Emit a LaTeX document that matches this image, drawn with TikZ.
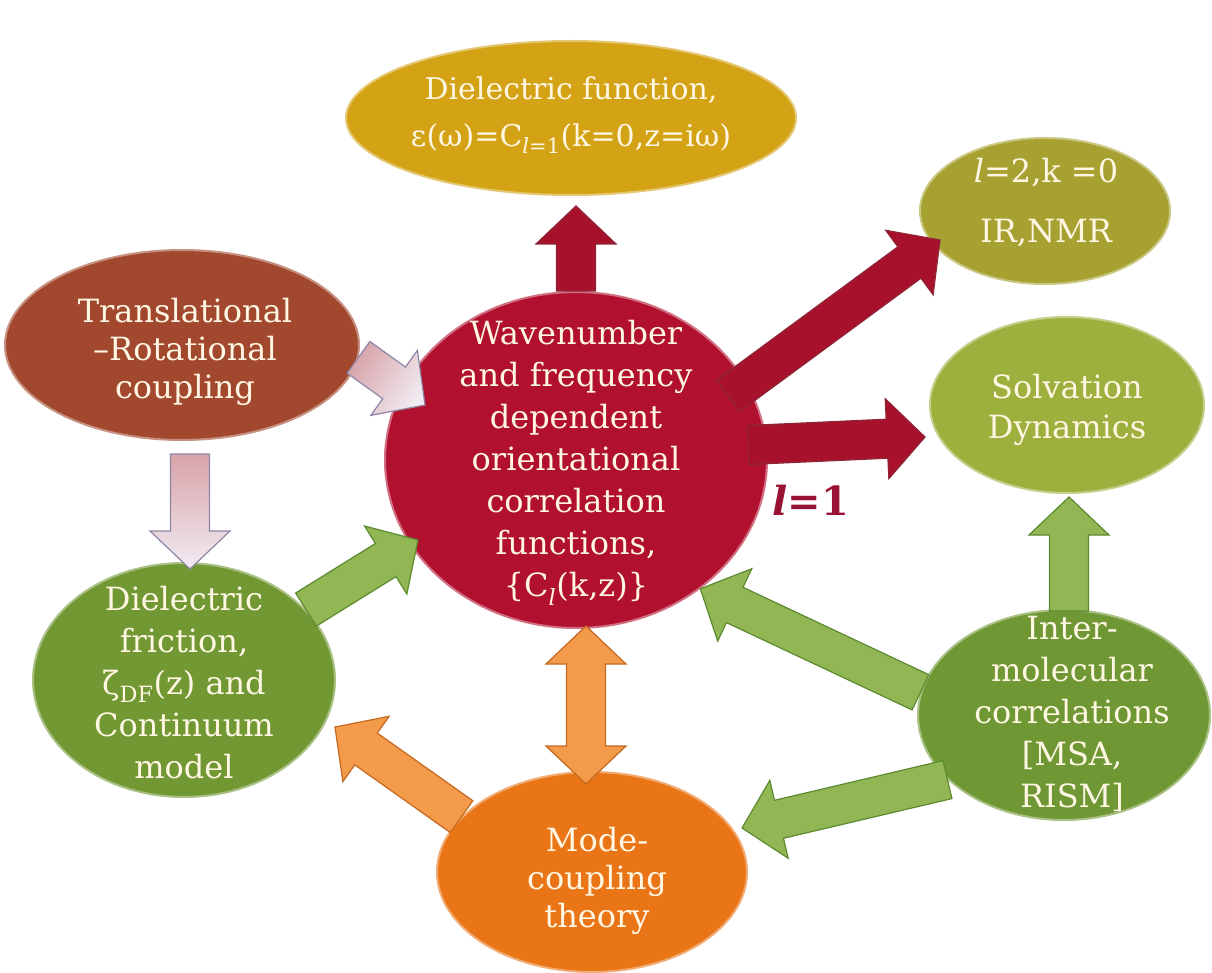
\documentclass[tikz,border=0pt]{standalone}
\usepackage{fontspec}
\setmainfont{DejaVu Serif}
\usetikzlibrary{calc}
\usetikzlibrary{shapes.geometric}
\definecolor{cdiel}{HTML}{D3A215}
\definecolor{cir}{HTML}{A6A130}
\definecolor{csolv}{HTML}{9DAF3C}
\definecolor{ctrans}{HTML}{A2482E}
\definecolor{cwave}{HTML}{B1112F}
\definecolor{cfric}{HTML}{719833}
\definecolor{cinter}{HTML}{6F9834}
\definecolor{cmct}{HTML}{E97516}
\definecolor{cream}{HTML}{FFF7E4}
\definecolor{redfill}{HTML}{A8112C}
\definecolor{redline}{HTML}{8E2638}
\definecolor{pinktop}{HTML}{D7A3A8}
\definecolor{pinkbot}{HTML}{F1ECF3}
\definecolor{pinkline}{HTML}{8F86A6}
\definecolor{greenfill}{HTML}{93B655}
\definecolor{greenline}{HTML}{5C8A2F}
\definecolor{orangefill}{HTML}{F39A4B}
\definecolor{orangeline}{HTML}{C4691F}
\definecolor{lred}{HTML}{9A1233}
\newcommand{\arrshaft}{19.5pt}
\newcommand{\arrhead}{40pt}
\newcommand{\arrlen}{38pt}
\newcommand{\fatarrow}[3][]{%
  \coordinate (fa-s) at (#2);
  \coordinate (fa-e) at (#3);
  \coordinate (fa-b) at ($(fa-e)!\arrlen!(fa-s)$);
  \draw[#1] ($(fa-s)!\arrshaft!90:(fa-e)$) -- ($(fa-b)!\arrshaft!-90:(fa-s)$)
    -- ($(fa-b)!\arrhead!-90:(fa-s)$) -- (fa-e) -- ($(fa-b)!\arrhead!90:(fa-s)$)
    -- ($(fa-b)!\arrshaft!90:(fa-s)$) -- ($(fa-s)!\arrshaft!-90:(fa-e)$) -- cycle;}
\newcommand{\fatdarrow}[3][]{%
  \coordinate (fa-s) at (#2);
  \coordinate (fa-e) at (#3);
  \coordinate (fa-a) at ($(fa-s)!\arrlen!(fa-e)$);
  \coordinate (fa-b) at ($(fa-e)!\arrlen!(fa-s)$);
  \draw[#1] (fa-s) -- ($(fa-a)!\arrhead!90:(fa-e)$) -- ($(fa-a)!\arrshaft!90:(fa-e)$)
    -- ($(fa-b)!\arrshaft!-90:(fa-s)$) -- ($(fa-b)!\arrhead!-90:(fa-s)$) -- (fa-e)
    -- ($(fa-b)!\arrhead!90:(fa-s)$) -- ($(fa-b)!\arrshaft!90:(fa-s)$)
    -- ($(fa-a)!\arrshaft!-90:(fa-e)$) -- ($(fa-a)!\arrhead!-90:(fa-e)$) -- cycle;}
\tikzset{
  blob/.style={ellipse, fill=#1, draw=#1!60!white, line width=2pt, inner sep=0pt},
  lbl/.style={text=cream, align=center, font=\fontsize{32}{42}\selectfont},
  redarrow/.style={fill=redfill, draw=redline, line width=1.2pt},
  pinkarrow/.style={top color=pinktop, bottom color=pinkbot, shading angle=#1, draw=pinkline, line width=1.2pt},
  pinkarrow/.default=0,
  greenarrow/.style={fill=greenfill, draw=greenline, line width=1.2pt},
  orangearrow/.style={fill=orangefill, draw=orangeline, line width=1.2pt}
}
\begin{document}
\begin{tikzpicture}[x=1pt, y=-1pt]
  \path[use as bounding box, fill=white] (0,0) rectangle (1212,973);
  \node[blob=cdiel, minimum width=450, minimum height=154] (diel) at (571,118) {};
  \node[blob=cir, minimum width=250, minimum height=146] (ir) at (1045,211) {};
  \node[blob=csolv, minimum width=274, minimum height=176] (solv) at (1067,405) {};
  \node[blob=ctrans, minimum width=354, minimum height=190] (trans) at (182,345) {};
  \node[blob=cwave, minimum width=382, minimum height=336] (wave) at (576,460) {};
  \node[blob=cfric, minimum width=302, minimum height=234] (fric) at (184,680) {};
  \node[blob=cinter, minimum width=292, minimum height=210] (inter) at (1064,715) {};
  \node[blob=cmct, minimum width=310, minimum height=200] (mct) at (592,872) {};
  \node[lbl, font=\fontsize{30}{47}\selectfont] (diel-t) at (571,115)
    {Dielectric function,\\ ε(ω)=C\textsubscript{\textit{l}=1}(k=0,z=iω)};
  \node[lbl, font=\fontsize{32}{60}\selectfont] (ir-t) at (1046,203) {\textit{l}=2,k =0\\ IR,NMR};
  \node[lbl, font=\fontsize{32}{40}\selectfont] (solv-t) at (1067,410) {Solvation\\ Dynamics};
  \node[lbl, font=\fontsize{32}{38}\selectfont] (trans-t) at (185,352) {Translational\\ –Rotational\\ coupling};
  \node[lbl] (wave-t) at (576,463) {Wavenumber\\ and frequency\\ dependent\\ orientational\\ correlation\\ functions,\\ \{C\textsubscript{\textit{l}}(k,z)\}};
  \node[lbl] (fric-t) at (184,683) {Dielectric\\ friction,\\ ζ\textsubscript{DF}(z) and\\ Continuum\\ model};
  \node[lbl] (inter-t) at (1072,714) {Inter-\\ molecular\\ correlations\\ {[}MSA,\\ RISM{]}};
  \node[lbl, font=\fontsize{32}{38}\selectfont] (mct-t) at (597,881) {Mode-\\ coupling\\ theory};
  \node[text=lred, font=\fontsize{40}{48}\selectfont\bfseries] (lone) at (811,500) {\textit{l}=1};
  \fatarrow[redarrow]{wave.north}{$(diel.south)+(5,10)$}
  \fatarrow[redarrow]{$(wave)+(152,-64)$}{$(ir)+(-105,29)$}
  \fatarrow[redarrow]{$(wave)+(172,-15)$}{$(solv)+(-142,32)$}
  \fatarrow[pinkarrow=56]{trans.-4}{$(wave)+(-151,-55)$}
  \fatarrow[pinkarrow]{$(trans.south)+(8,13)$}{$(fric.north)+(6,7)$}
  \fatarrow[greenarrow]{fric.30}{$(wave)+(-158,80)$}
  \fatarrow[greenarrow]{inter.171}{wave.-46}
  \fatarrow[greenarrow]{$(inter.north)+(5,2)$}{$(solv.south)+(2,3)$}
  \fatarrow[greenarrow]{inter.209}{$(mct)+(150,-44)$}
  \fatarrow[orangearrow]{mct.157}{$(fric)+(151,47)$}
  \fatdarrow[orangearrow]{$(wave.south)+(10,-3)$}{$(mct.north)+(-6,13)$}
\end{tikzpicture}
\end{document}
